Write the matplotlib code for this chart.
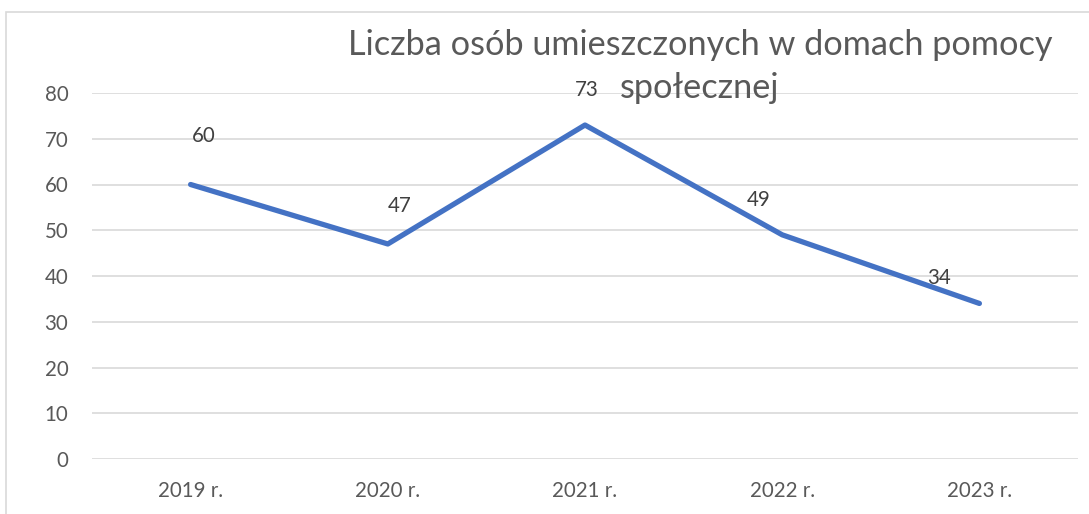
import matplotlib
matplotlib.use("Agg")
import matplotlib.pyplot as plt
from matplotlib.patches import Rectangle

categories = ["2019 r.", "2020 r.", "2021 r.", "2022 r.", "2023 r."]
values = [60, 47, 73, 49, 34]
yticks = [0, 10, 20, 30, 40, 50, 60, 70, 80]
title_line1 = "Liczba osób umieszczonych w domach pomocy"
title_line2 = "społecznej"

# label offsets in pixels (style)
label_offsets = [(13, 49), (12, 38), (2, 35), (-24, 35), (-40, 25)]

W, H = 1089, 514
fig = plt.figure(figsize=(W / 100, H / 100), dpi=100)
plt.rcParams['font.family'] = ['Lato', 'DejaVu Sans']

# outer chart border (clipped at right/bottom)
fig.patches.append(Rectangle((6 / W, -0.1), 1.2, (H - 12) / H + 0.1, transform=fig.transFigure,
                             fill=False, edgecolor="#D9D9D9", linewidth=1.2))

left, right = 92 / W, 1078 / W
bottom, top = (H - 459) / H, (H - 93) / H
ax = fig.add_axes([left, bottom, right - left, top - bottom])
x = list(range(len(categories)))
ax.plot(x, values, color="#4472C4", linewidth=3.8, solid_capstyle="round", zorder=3)
ax.set_xlim(-0.5, len(categories) - 0.5)
ax.set_ylim(0, 80)
ax.set_yticks(yticks)
ax.set_xticks(x)
ax.set_xticklabels(categories)
ax.grid(axis="y", color="#D9D9D9", linewidth=1.2)
ax.set_axisbelow(True)
for s in ax.spines.values():
    s.set_visible(False)
ax.tick_params(length=0, labelsize=14.8, colors="#595959")
ax.tick_params(axis="x", pad=16)
ax.tick_params(axis="y", pad=17)
for lab in ax.get_yticklabels():
    lab.set_horizontalalignment("right")

for xi, v, (dx, dy) in zip(x, values, label_offsets):
    ax.annotate(str(v), (xi, v), xytext=(dx * 0.72, dy * 0.72), textcoords="offset points",
                ha="center", va="center", fontsize=14.8, color="#404040")

fig.text(700 / W, 1 - 45 / H, title_line1, ha="center", va="center",
         fontsize=24.7, color="#595959")
fig.text(700 / W, 1 - 88 / H, title_line2, ha="center", va="center",
         fontsize=24.7, color="#595959")

fig.savefig("out.png", dpi=100)
